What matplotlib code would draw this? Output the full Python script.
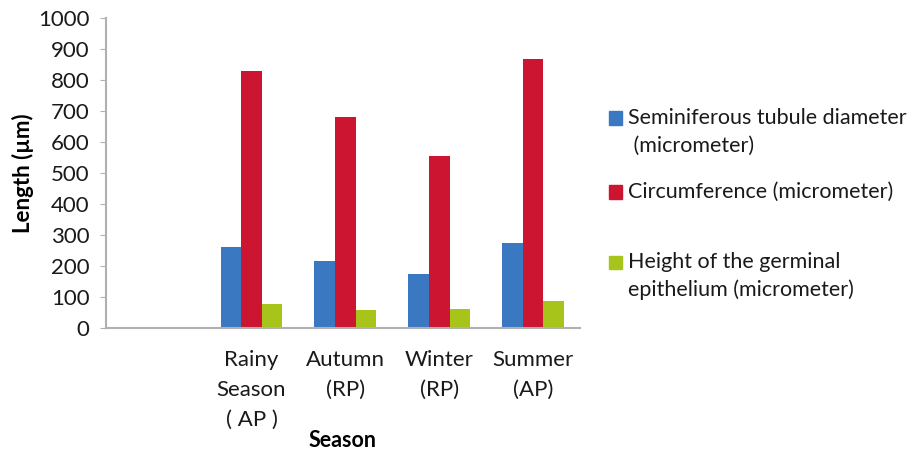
import numpy as np
import matplotlib
matplotlib.use("Agg")
import matplotlib.pyplot as plt
from matplotlib.patches import Rectangle

plt.rcParams['font.family'] = ['Lato', 'DejaVu Sans']

# Data
categories = ["", "Rainy\nSeason\n( AP )", "Autumn\n(RP)", "Winter\n(RP)", "Summer\n(AP)"]
tubule_diameter = [np.nan, 262, 216, 174, 275]
circumference = [np.nan, 830, 680, 555, 868]
germinal_height = [np.nan, 77, 57, 61, 87]

series_labels = [
    "Seminiferous tubule diameter\n (micrometer)",
    "Circumference (micrometer)",
    "Height of the germinal\nepithelium (micrometer)",
]
colors = ["#3a78c2", "#cc1531", "#a6c41a"]

W, H = 917, 453
fig = plt.figure(figsize=(W / 100, H / 100), dpi=100)
ax = fig.add_axes([106 / W, 1 - 328 / H, 474 / W, 310 / H])

x = np.arange(len(categories))
w = 0.22
for i, (vals, col) in enumerate(zip([tubule_diameter, circumference, germinal_height], colors)):
    ax.bar(x + (i - 1) * w, vals, width=w, color=col, edgecolor='none')

ax.set_xlim(-0.55, 4.5)
ax.set_ylim(0, 1000)
ax.set_yticks(np.arange(0, 1001, 100))
ax.set_xticks(x)
ax.set_xticklabels(categories, fontsize=16, color="#1a1a1a", linespacing=1.6)
ax.tick_params(axis='x', length=0, pad=16)
ax.tick_params(axis='y', labelsize=16, labelcolor="#1a1a1a", length=4, color="#b0b0b0", pad=8)

for side in ['top', 'right']:
    ax.spines[side].set_visible(False)
for side in ['left', 'bottom']:
    ax.spines[side].set_color("#b0b0b0")
    ax.spines[side].set_linewidth(1.5)

ax.set_ylabel("Length (µm)", fontsize=16, fontweight='bold', labelpad=3)
ax.set_xlabel("Season", fontsize=15.5, fontweight='bold', labelpad=0.5)

# legend, drawn line by line so the swatch sits beside the first line
legend_y = [118, 192, 262]
line_px = 28
for lab, col, y0 in zip(series_labels, colors, legend_y):
    fig.patches.append(Rectangle((609 / W, 1 - (y0 + 6.5) / H), 13 / W, 13 / H,
                                 transform=fig.transFigure, color=col))
    for j, line in enumerate(lab.split("\n")):
        fig.text(628 / W, 1 - (y0 + j * line_px) / H, line, fontsize=15.5,
                 color="#1a1a1a", va='center', ha='left')

fig.savefig("out.png", dpi=100)
